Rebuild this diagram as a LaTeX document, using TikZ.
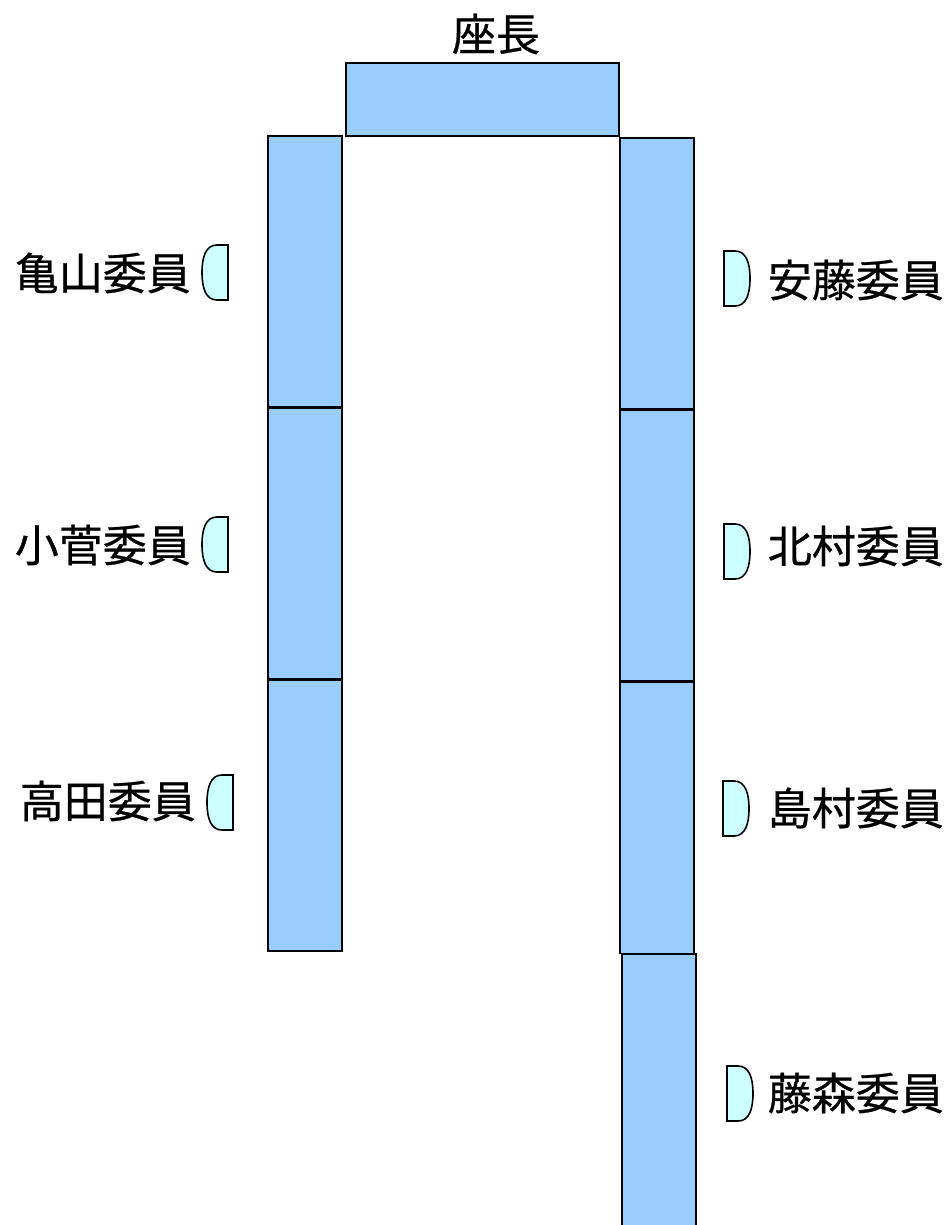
\documentclass[tikz,border=0pt]{standalone}
\usepackage{fontspec}
\newfontfamily\jpfont[FakeBold=0.6]{Noto Sans CJK JP}
\usetikzlibrary{positioning}

\begin{document}
\begin{tikzpicture}
[x=1pt,y=-1pt,
desk/.style={shape=rectangle,draw=black,fill=deskblue,line width=1.6pt,inner sep=0pt,outer sep=0pt,minimum width=74pt,minimum height=271pt},
chair/.style={draw=black,fill=chaircyan,line width=1.6pt},
nametag/.style={inner sep=0pt,font=\jpfont\fontsize{44}{52}\selectfont}]
\definecolor{deskblue}{HTML}{99CCFF}
\definecolor{chaircyan}{HTML}{CCFFFF}
\useasboundingbox (0,0) rectangle (949,1225);
%%
\node (chairdesk) [desk,minimum width=273pt,minimum height=73pt] at (482.5,99.5) {};
\node (zacho) [nametag] at (496,34) {座長};
%%
\node (l1) [desk] at (305,271.5) {};
\node (l2) [desk] at (305,543.5) {};
\node (l3) [desk] at (305,815.5) {};
\node (r1) [desk] at (657,273.5) {};
\node (r2) [desk] at (657,545.5) {};
\node (r3) [desk] at (657,818) {};
\node (r4) [desk,minimum height=286pt] at (659,1097) {};
%%
\foreach \x/\y in {228/245,228/517,233/775}
  \draw[chair] (\x,\y) -- ++(-11,0) .. controls +(-11,0) and +(0,-16) .. ++(-15,27.5)
    .. controls +(0,16) and +(-11,0) .. ++(15,27.5) -- ++(11,0) -- cycle;
\foreach \x/\y in {724/251,724/524,723/781,727/1066}
  \draw[chair] (\x,\y) -- ++(11,0) .. controls +(11,0) and +(0,-16) .. ++(15,27.5)
    .. controls +(0,16) and +(11,0) .. ++(-15,27.5) -- ++(-11,0) -- cycle;
%%
\node (kameyama) [nametag,anchor=east] at (191,273) {亀山委員};
\node (kosuge) [nametag,anchor=east] at (191,545) {小菅委員};
\node (takata) [nametag,anchor=east] at (196,801) {高田委員};
\node (ando) [nametag,anchor=east] at (944,280) {安藤委員};
\node (kitamura) [nametag,anchor=east] at (944,546) {北村委員};
\node (shimamura) [nametag,anchor=east] at (944,808) {島村委員};
\node (fujimori) [nametag,anchor=east] at (944,1093) {藤森委員};
%%
\end{tikzpicture}
\end{document}
